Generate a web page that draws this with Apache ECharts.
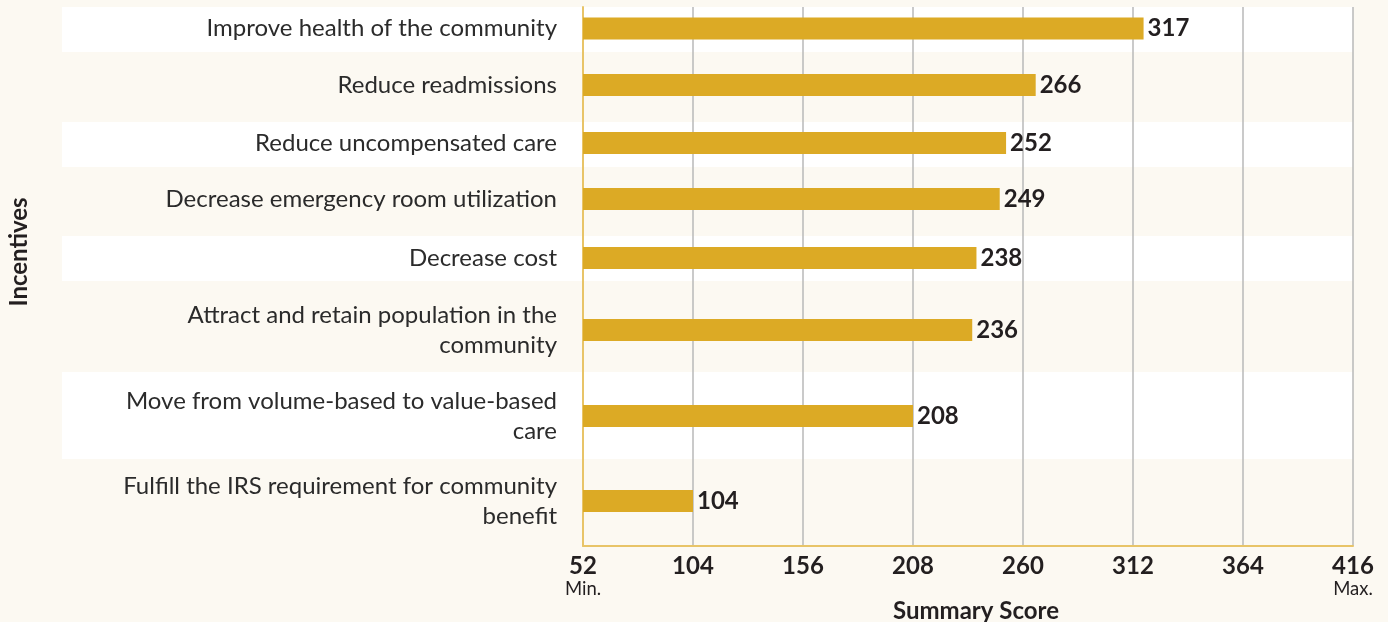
<!DOCTYPE html>
<html>
<head>
<meta charset="utf-8">
<script src="https://cdn.jsdelivr.net/npm/echarts@6/dist/echarts.min.js"></script>
<style>
  html, body { margin: 0; padding: 0; background: #fcf9f2; }
  #main { width: 1388px; height: 622px; }
</style>
</head>
<body>
<div id="main"></div>
<script>
// data
var categories = [
    'Improve health of the community',
    'Reduce readmissions',
    'Reduce uncompensated care',
    'Decrease emergency room utilization',
    'Decrease cost',
    'Attract and retain population in the community',
    'Move from volume-based to value-based care',
    'Fulfill the IRS requirement for community benefit'
];
var scores = [317, 266, 252, 249, 238, 236, 208, 104];
var tickMin = 52, tickMax = 416, tickStep = 52;

// layout (px): grid band per category, and the striped row backgrounds
var gridEdges = [7, 50, 120, 166, 232, 284, 376, 456, 546];
var stripeEdges = [7, 52, 122, 167, 236, 281, 372, 459, 546];
var plotLeft = 583, plotRight = 1353;

var myChart = echarts.init(document.getElementById('main'));

var fontFamily = 'Lato';
var labelSize = 24;
var wrapWidth = 450;

// greedy word wrap so lines stay flush right (no trailing spaces)
var measureCtx = document.createElement('canvas').getContext('2d');
measureCtx.font = labelSize + 'px ' + fontFamily;
function wrapLabel(text) {
    var words = text.split(' ');
    var lines = [], line = '';
    for (var k = 0; k < words.length; k++) {
        var test = line ? line + ' ' + words[k] : words[k];
        if (line && measureCtx.measureText(test).width > wrapWidth) {
            lines.push(line);
            line = words[k];
        } else {
            line = test;
        }
    }
    lines.push(line);
    return lines.join('\n');
}

var grids = [], xAxes = [], yAxes = [], series = [], rects = [];
var last = categories.length - 1;

for (var i = 0; i < categories.length; i++) {
    grids.push({
        left: plotLeft, width: plotRight - plotLeft,
        top: gridEdges[i], height: gridEdges[i + 1] - gridEdges[i],
        outerBoundsMode: 'none',
        containLabel: false
    });

    // white stripe on every other row (label area + plot)
    if (i % 2 === 0) {
        rects.push({
            type: 'rect', z: -10,
            shape: { x: 62, y: stripeEdges[i], width: plotRight - 62, height: stripeEdges[i + 1] - stripeEdges[i] },
            style: { fill: '#ffffff' }
        });
    }

    xAxes.push({
        gridIndex: i,
        type: 'value',
        min: tickMin, max: tickMax, interval: tickStep,
        axisLine: { show: i === last, lineStyle: { color: '#e8c468', width: 2 } },
        axisTick: { show: false },
        splitLine: { show: true, showMinLine: false, lineStyle: { color: '#b8b8b8', width: 1.5 } },
        axisLabel: {
            show: i === last,
            margin: 8,
            formatter: function (v) {
                if (v === tickMin) return '{b|' + v + '}\n{s|Min.}';
                if (v === tickMax) return '{b|' + v + '}\n{s|Max.}';
                return '{b|' + v + '}';
            },
            rich: {
                b: { fontFamily: fontFamily, fontWeight: 'bold', fontSize: 24, color: '#231f20', lineHeight: 25 },
                s: { fontFamily: fontFamily, fontSize: 18.5, color: '#231f20', lineHeight: 20 }
            }
        },
        name: i === last ? 'Summary Score' : '',
        nameLocation: 'middle',
        nameGap: 50,
        nameTextStyle: { fontFamily: fontFamily, fontWeight: 'bold', fontSize: 24, color: '#231f20', padding: [0, 0, 0, 16] }
    });

    yAxes.push({
        gridIndex: i,
        type: 'category',
        data: [categories[i]],
        axisLine: { show: true, lineStyle: { color: '#e8c468', width: 2 } },
        axisTick: { show: false },
        axisLabel: {
            margin: 26,
            align: 'right',
            formatter: wrapLabel,
            fontFamily: fontFamily,
            fontSize: labelSize,
            lineHeight: 30,
            color: '#2b2b2b'
        }
    });

    series.push({
        type: 'bar',
        xAxisIndex: i,
        yAxisIndex: i,
        data: [scores[i]],
        barWidth: 22,
        itemStyle: { color: '#dcaa25' },
        label: {
            show: true,
            position: 'right',
            distance: 4,
            fontFamily: fontFamily,
            fontWeight: 'bold',
            fontSize: 24,
            color: '#231f20'
        },
        silent: true
    });
}

var option = {
    backgroundColor: '#fcf9f2',
    animation: false,
    grid: grids,
    xAxis: xAxes,
    yAxis: yAxes,
    series: series,
    graphic: rects.concat([{
        type: 'text',
        x: 19, y: 252,
        rotation: Math.PI / 2,
        style: {
            text: 'Incentives',
            fontFamily: fontFamily,
            fontWeight: 'bold',
            fontSize: 24,
            fill: '#231f20',
            align: 'center',
            verticalAlign: 'middle'
        }
    }])
};

myChart.setOption(option);
</script>
</body>
</html>
